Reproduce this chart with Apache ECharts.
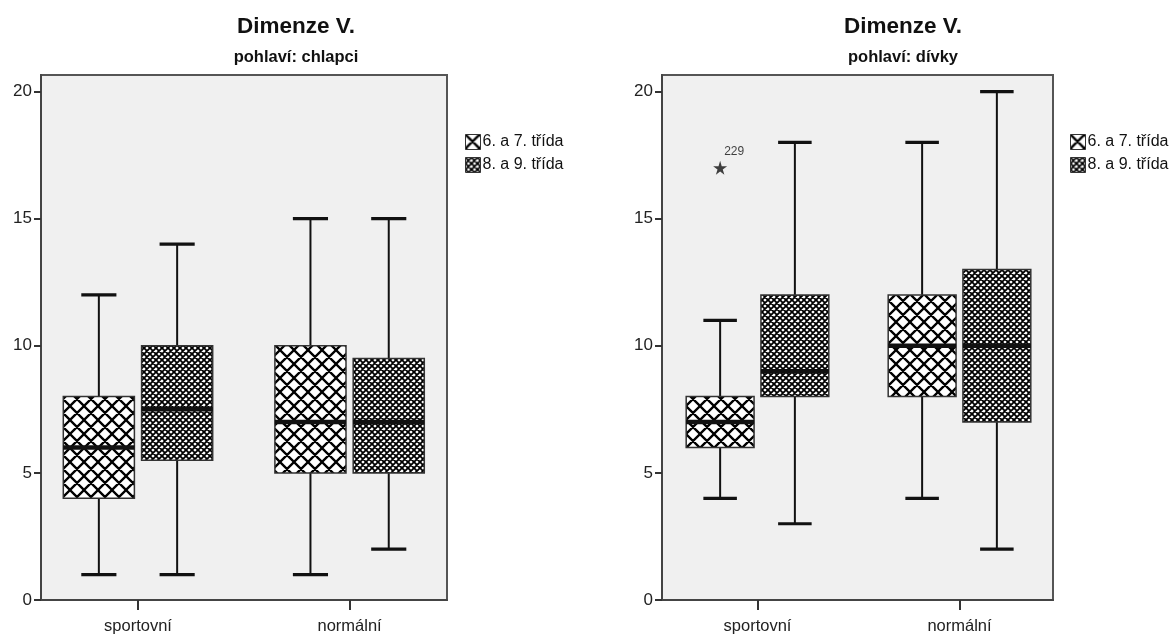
<!DOCTYPE html>
<html><head><meta charset="utf-8">
<script src="https://cdn.jsdelivr.net/npm/echarts@6/dist/echarts.min.js"></script>
<style>html,body{margin:0;padding:0;background:#fff}#c{width:1169px;height:640px}</style>
</head><body><div id="c"></div>
<script>
// ---- data ----
const categories = ['sportovní', 'normální'];
const groupNames = ['6. a 7. třída', '8. a 9. třída'];
const yTicks = [0, 5, 10, 15, 20];
const titles = ['Dimenze V.', 'Dimenze V.'];
const subtitles = ['pohlaví: chlapci', 'pohlaví: dívky'];
// [min, Q1, median, Q3, max] per category
const boys67 = [[1, 4, 6, 8, 12], [1, 5, 7, 10, 15]];
const boys89 = [[1, 5.5, 7.5, 10, 14], [2, 5, 7, 9.5, 15]];
const girls67 = [[4, 6, 7, 8, 11], [4, 8, 10, 12, 18]];
const girls89 = [[3, 8, 9, 12, 18], [2, 7, 10, 13, 20]];
// [category index, value, case label] (group 6. a 7. třída)
const girlsOutliers67 = [[0, 17, '229']];

// ---- styles ----
const FONT = "'Liberation Sans Narrow', 'Arial Narrow', 'Liberation Sans', sans-serif";
const OFF = 0.185, HALF = 0.168, CAP = 0.083;

function makeHatch(size, lw) {
  const c = document.createElement('canvas');
  c.width = size; c.height = size;
  const g = c.getContext('2d');
  g.fillStyle = '#fff'; g.fillRect(0, 0, size, size);
  g.strokeStyle = '#000'; g.lineWidth = lw;
  g.beginPath();
  for (const k of [-size, 0, size]) {
    g.moveTo(k - 1, -1); g.lineTo(k + size + 1, size + 1);
    g.moveTo(k - 1, size + 1); g.lineTo(k + size + 1, -1);
  }
  g.stroke();
  return { image: c, repeat: 'repeat' };
}
const pat67 = makeHatch(14, 2.3);
const pat89 = makeHatch(6, 1.8);

function boxRenderer(offset, pattern) {
  return function (params, api) {
    const xc = api.value(0) + offset;
    const x = api.coord([xc, 0])[0];
    const xl = api.coord([xc - HALF, 0])[0], xr = api.coord([xc + HALF, 0])[0];
    const cl = api.coord([xc - CAP, 0])[0], cr = api.coord([xc + CAP, 0])[0];
    const y = k => api.coord([xc, api.value(k)])[1];
    const yMin = y(1), yQ1 = y(2), yMed = y(3), yQ3 = y(4), yMax = y(5);
    const ln = (x1, y1, x2, y2, w) => ({ type: 'line', shape: { x1, y1, x2, y2 }, style: { stroke: '#111', lineWidth: w } });
    return {
      type: 'group', children: [
        ln(x, yMin, x, yQ1, 2), ln(x, yQ3, x, yMax, 2),
        ln(cl, yMin, cr, yMin, 3.2), ln(cl, yMax, cr, yMax, 3.2),
        { type: 'rect', shape: { x: xl, y: yQ3, width: xr - xl, height: yQ1 - yQ3 }, style: { fill: pattern, stroke: '#333', lineWidth: 1.5 } },
        ln(xl, yMed, xr, yMed, 4.5)
      ]
    };
  };
}

function yAxis(gi) {
  return {
    type: 'value', gridIndex: gi, min: 0, max: 20.65,
    axisLine: { show: true, onZero: false, lineStyle: { color: '#444', width: 2 } },
    axisTick: { show: true, length: 7, customValues: yTicks, lineStyle: { color: '#333', width: 2 } },
    axisLabel: { customValues: yTicks, margin: 9, fontFamily: FONT, fontSize: 17, color: '#222' },
    splitLine: { show: false }
  };
}
function xAxis(gi, min, max) {
  const vals = categories.map((c, i) => i);
  return {
    type: 'value', gridIndex: gi, min, max,
    axisLine: { show: true, onZero: false, lineStyle: { color: '#444', width: 2 } },
    axisTick: { show: true, length: 10, customValues: vals, lineStyle: { color: '#333', width: 2 } },
    axisLabel: { customValues: vals, formatter: v => categories[Math.round(v)], margin: 18, fontFamily: FONT, fontSize: 16.5, color: '#222' },
    splitLine: { show: false }
  };
}
function legend(left) {
  return {
    left, top: 134, orient: 'vertical', padding: 0, itemGap: 7,
    itemWidth: 15, itemHeight: 15, selectedMode: false,
    textStyle: { fontFamily: FONT, fontSize: 16, color: '#111', padding: [0, 0, 0, -3] },
    data: [
      { name: groupNames[0], icon: 'rect', itemStyle: { color: pat67, borderColor: '#333', borderWidth: 1 } },
      { name: groupNames[1], icon: 'rect', itemStyle: { color: pat89, borderColor: '#333', borderWidth: 1 } }
    ]
  };
}
const toData = arr => arr.map((d, i) => [i].concat(d));
const starPath = 'path://M50,0 L61,35 L98,35 L68,57 L79,91 L50,70 L21,91 L32,57 L2,35 L39,35 Z';

const gridStyle = { show: true, backgroundColor: '#f0f0f0', borderColor: '#555', borderWidth: 2 };
const option = {
  animation: false,
  backgroundColor: '#fff',
  graphic: [
    { type: 'text', x: 296, y: 27, style: { text: titles[0], font: "bold 22.5px " + FONT, fill: '#111', textAlign: 'center', textVerticalAlign: 'middle' } },
    { type: 'text', x: 296, y: 57, style: { text: subtitles[0], font: "bold 16.5px " + FONT, fill: '#111', textAlign: 'center', textVerticalAlign: 'middle' } },
    { type: 'text', x: 903, y: 27, style: { text: titles[1], font: "bold 22.5px " + FONT, fill: '#111', textAlign: 'center', textVerticalAlign: 'middle' } },
    { type: 'text', x: 903, y: 57, style: { text: subtitles[1], font: "bold 16.5px " + FONT, fill: '#111', textAlign: 'center', textVerticalAlign: 'middle' } }
  ],
  grid: [
    Object.assign({ left: 41, top: 75, width: 406, height: 525 }, gridStyle),
    Object.assign({ left: 662, top: 75, width: 391, height: 525 }, gridStyle)
  ],
  xAxis: [xAxis(0, -0.4584, 1.4603), xAxis(1, -0.4728, 1.4629)],
  yAxis: [yAxis(0), yAxis(1)],
  legend: [legend(465), legend(1070)],
  series: [
    { type: 'custom', name: groupNames[0], xAxisIndex: 0, yAxisIndex: 0, itemStyle: { color: pat67 }, renderItem: boxRenderer(-OFF, pat67), data: toData(boys67), encode: { x: 0, y: [1, 2, 3, 4, 5] } },
    { type: 'custom', name: groupNames[1], xAxisIndex: 0, yAxisIndex: 0, itemStyle: { color: pat89 }, renderItem: boxRenderer(OFF, pat89), data: toData(boys89), encode: { x: 0, y: [1, 2, 3, 4, 5] } },
    { type: 'custom', name: groupNames[0], xAxisIndex: 1, yAxisIndex: 1, itemStyle: { color: pat67 }, renderItem: boxRenderer(-OFF, pat67), data: toData(girls67), encode: { x: 0, y: [1, 2, 3, 4, 5] } },
    { type: 'custom', name: groupNames[1], xAxisIndex: 1, yAxisIndex: 1, itemStyle: { color: pat89 }, renderItem: boxRenderer(OFF, pat89), data: toData(girls89), encode: { x: 0, y: [1, 2, 3, 4, 5] } },
    {
      type: 'scatter', name: 'outliers', xAxisIndex: 1, yAxisIndex: 1,
      symbol: starPath, symbolSize: 14, itemStyle: { color: '#111' },
      data: girlsOutliers67.map(o => ({ value: [o[0] - OFF, o[1]], caseLabel: o[2] })),
      label: {
        show: true, position: [11, -15], align: 'left', verticalAlign: 'top',
        formatter: p => p.data.caseLabel, fontFamily: FONT, fontSize: 12, color: '#111'
      }
    }
  ]
};
const chart = echarts.init(document.getElementById('c'), null, { renderer: 'canvas' });
chart.setOption(option);
</script>
</body></html>
